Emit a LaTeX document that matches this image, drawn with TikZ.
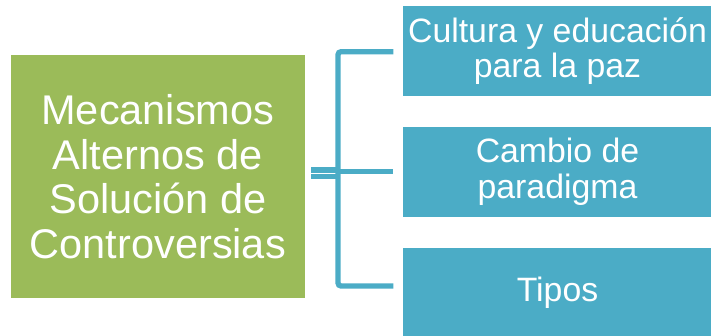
\documentclass[tikz,border=0pt]{standalone}
\usepackage{fontspec}
\setmainfont{Liberation Sans}
\definecolor{sgreen}{HTML}{9BBB59}
\definecolor{sblue}{HTML}{4BACC6}
\begin{document}
\begin{tikzpicture}[x=1pt,y=-1pt,
  mainbox/.style={draw=white, line width=0.6pt, fill=sgreen, text=white, inner sep=0pt, outer sep=0pt,
    anchor=north west, align=center, font=\fontsize{41.5}{44.5}\selectfont},
  subbox/.style={draw=white, line width=0.6pt, fill=sblue, text=white, inner sep=0pt, outer sep=0pt,
    anchor=north west, align=center, minimum width=310pt, minimum height=91.2pt,
    font=\fontsize{33.8}{35.5}\selectfont},
  conn/.style={draw=sblue, line width=5.3pt},
  conndouble/.style={draw=sblue, line width=5.3pt, double=white, double distance=1.3pt}
]
\useasboundingbox (0,0) rectangle (711,335);
\node[mainbox, minimum width=294.3pt, minimum height=244pt] (main) at (10.7,54.7)
  {Mecanismos\\Alternos de\\Solución de\\Controversias};
\node[subbox] (c1) at (402.5,5.5) {Cultura y educación\\para la paz};
\node[subbox] (c2) at (402.5,126) {Cambio de\\paradigma};
\node[subbox] (c3) at (402.5,246.8) {Tipos};
\coordinate (j) at (338,171.7);
\coordinate (d0) at (311,173.3);
\coordinate (e1) at (393.3,51.7);
\coordinate (e2) at (393.3,171.7);
\coordinate (e3) at (393.3,286);
\draw[conndouble] (d0) -- (d0 -| j);
\draw[conn, rounded corners=3pt] (e1) -- (e1 -| j) -- (e3 -| j) -- (e3);
\draw[conn] (j) -- (e2);
\end{tikzpicture}
\end{document}
